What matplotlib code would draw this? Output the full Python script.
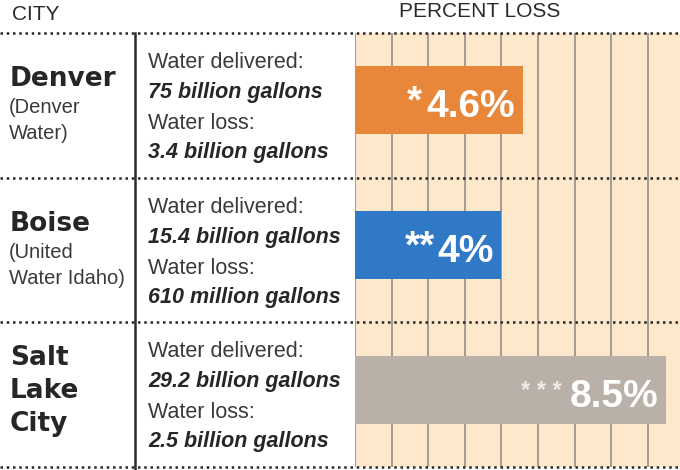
import matplotlib
matplotlib.use('Agg')
import matplotlib.pyplot as plt

city_lines = [['Denver'], ['Boise'], ['Salt', 'Lake', 'City']]
utility_lines = [['(Denver', 'Water)'], ['(United', 'Water Idaho)'], []]
delivered = ['75 billion gallons', '15.4 billion gallons', '29.2 billion gallons']
lost = ['3.4 billion gallons', '610 million gallons', '2.5 billion gallons']
pct_loss = [4.6, 4.0, 8.5]
pct_labels = ['4.6%', '4%', '8.5%']
stars = ['*', '**', '* * *']

bar_colors = ['#e8873a', '#2f79c6', '#b9b0a8']
star_size = [28, 28, 17]
star_alpha = [1.0, 1.0, 0.75]
star_gap = [-5, -2, -8]
star_lift = [5, 5, 9]

W, H = 680, 470
row_top = 33
row_h = 144.7
n = len(pct_loss)

fig = plt.figure(figsize=(W / 100, H / 100), dpi=100)
fig.patch.set_facecolor('white')

# chart panel
ax = fig.add_axes([355 / W, (H - 467) / H, (W - 355) / W, (467 - 33) / H])
ax.set_facecolor('#fde8cc')
ax.set_xlim(0, (W - 355) / 36.6)
ax.set_ylim(n - 0.5, -0.5)
ax.set_xticks(range(0, 9))
ax.set_yticks([])
ax.grid(axis='x', color='#a39b92', lw=1.4)
ax.set_axisbelow(True)
ax.tick_params(length=0, labelbottom=False)
for s in ax.spines.values():
    s.set_visible(False)

ypos = [i - 0.035 for i in range(n)]
ax.barh(ypos, pct_loss, height=0.47, color=bar_colors, zorder=2)

for i in range(n):
    val = ax.annotate(pct_labels[i], xy=(pct_loss[i], i), xytext=(-8, -12),
                      textcoords='offset pixels', ha='right', va='baseline',
                      color='white', fontsize=28, fontweight='bold',
                      family='Liberation Sans', zorder=3)
    ax.annotate(stars[i], xy=(0, i), xycoords=(val, 'data'),
                xytext=(star_gap[i], -12 + star_lift[i]), textcoords='offset pixels',
                ha='right', va='baseline', color='white', alpha=star_alpha[i],
                fontsize=star_size[i], fontweight='bold',
                family='Liberation Sans', zorder=3)

# overlay for rules and text, in pixel units
bg = fig.add_axes([0, 0, 1, 1], zorder=3)
bg.set_xlim(0, W)
bg.set_ylim(H, 0)
bg.axis('off')

for k in range(n + 1):
    y = row_top + k * row_h
    bg.plot([0, W], [y, y], color='#262626', lw=1.8, ls=(0, (1.0, 1.5)),
            dash_capstyle='butt')
bg.plot([135, 135], [row_top, H], color='#2b2b2b', lw=1.8)

hdr = dict(fontsize=15, color='#2a2a2a', va='baseline',
           family=['Liberation Sans Narrow', 'Liberation Sans'])
bg.text(12, 20, 'CITY', ha='left', **hdr)
bg.text(480, 17, 'PERCENT LOSS', ha='center', **hdr)

for i in range(n):
    top = row_top + i * row_h
    start = 53 if utility_lines[i] else 43
    for k, line in enumerate(city_lines[i]):
        bg.text(10, top + start + 33 * k, line, fontsize=19, fontweight='bold',
                family='DejaVu Sans', color='#262626', va='baseline')
    for k, line in enumerate(utility_lines[i]):
        bg.text(9, top + start + 27 + 26 * k, line, fontsize=14.5,
                family='Liberation Sans', color='#3a3a3a', va='baseline')

    mid = [('Water delivered:', 'normal', 'normal', '#3a3a3a'),
           (delivered[i], 'bold', 'italic', '#262626'),
           ('Water loss:', 'normal', 'normal', '#3a3a3a'),
           (lost[i], 'bold', 'italic', '#262626')]
    for off, (txt, wt, st, col) in zip([35, 65, 96, 125], mid):
        bg.text(148, top + off, txt, fontsize=15.5, fontweight=wt, fontstyle=st,
                family='Liberation Sans', color=col, va='baseline')

fig.savefig('out.png', dpi=100)
